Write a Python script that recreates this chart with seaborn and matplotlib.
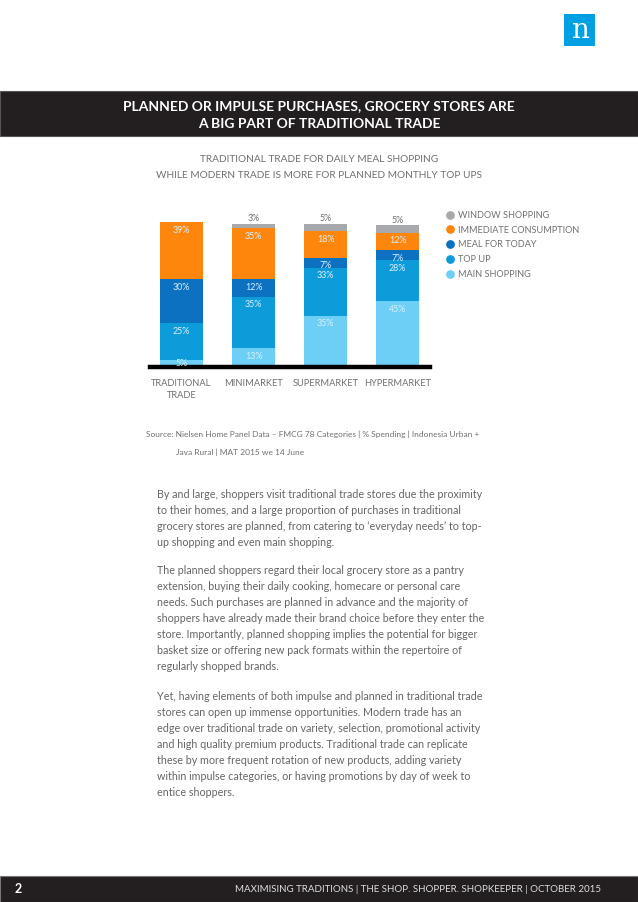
import matplotlib
matplotlib.use("Agg")
import matplotlib.pyplot as plt
from matplotlib.lines import Line2D
from matplotlib.patches import Rectangle
import seaborn as sns
import pandas as pd

# ---------------- data ----------------
categories = ["TRADITIONAL\nTRADE", "MINIMARKET", "SUPERMARKET", "HYPERMARKET"]
segments = ["MAIN SHOPPING", "TOP UP", "MEAL FOR TODAY", "IMMEDIATE CONSUMPTION", "WINDOW SHOPPING"]
main_shopping = [5, 13, 35, 45]
top_up = [25, 35, 33, 28]
meal_for_today = [30, 12, 7, 7]
immediate_consumption = [39, 35, 18, 12]
window_shopping = [0, 3, 5, 5]

colors = {
    "MAIN SHOPPING": "#6DCFF6",
    "TOP UP": "#0E9BDA",
    "MEAL FOR TODAY": "#0B71C0",
    "IMMEDIATE CONSUMPTION": "#FF860D",
    "WINDOW SHOPPING": "#A7A9AC",
}
legend_order = ["WINDOW SHOPPING", "IMMEDIATE CONSUMPTION", "MEAL FOR TODAY", "TOP UP", "MAIN SHOPPING"]

values = {
    "MAIN SHOPPING": main_shopping,
    "TOP UP": top_up,
    "MEAL FOR TODAY": meal_for_today,
    "IMMEDIATE CONSUMPTION": immediate_consumption,
    "WINDOW SHOPPING": window_shopping,
}

rows = []
for s in segments:
    for c, v in zip(categories, values[s]):
        rows.append({"category": c, "segment": s, "value": v})
df = pd.DataFrame(rows)
df["cum"] = df.groupby("category")["value"].cumsum()

# ---------------- figure ----------------
W, H = 638, 902
fig = plt.figure(figsize=(W / 100, H / 100), dpi=100)
fig.patch.set_facecolor("white")
FONT = "Lato"
GREY = "#707070"

def fx(px):
    return px / W

def fy(py):
    return 1 - py / H

# header band
fig.add_artist(Rectangle((0, fy(136)), 1, (136 - 91) / H, transform=fig.transFigure,
                         facecolor="#231F20", edgecolor="#555555", lw=0.8))
fig.text(0.5, fy(106), "PLANNED OR IMPULSE PURCHASES, GROCERY STORES ARE", ha="center", va="center",
         color="white", fontsize=10.0, fontweight="bold", family=FONT)
fig.text(0.5, fy(123.5), "A BIG PART OF TRADITIONAL TRADE", ha="center", va="center",
         color="white", fontsize=10.0, fontweight="bold", family=FONT)

# logo
fig.add_artist(Rectangle((fx(564), fy(46)), 31 / W, 32 / H, transform=fig.transFigure,
                         facecolor="#00A0E2", edgecolor="none"))
fig.text(fx(579.5), fy(31), "n", ha="center", va="center", color="white",
         fontsize=20, family="DejaVu Serif")

# subtitle
fig.text(0.5, fy(160), "TRADITIONAL TRADE FOR DAILY MEAL SHOPPING", ha="center", va="center",
         color=GREY, fontsize=7.3, family=FONT)
fig.text(0.5, fy(175), "WHILE MODERN TRADE IS MORE FOR PLANNED MONTHLY TOP UPS", ha="center", va="center",
         color=GREY, fontsize=7.3, family=FONT)

# ---------------- chart ----------------
ppp = 1.46  # px per percent
ymax = 105
ax_left, ax_right = 145.5, 433.5
ax_bottom = 367
ax_top = ax_bottom - ymax * ppp
ax = fig.add_axes([fx(ax_left), fy(ax_bottom), (ax_right - ax_left) / W, (ax_bottom - ax_top) / H])

# stacked bars drawn from the top segment down (cumulative heights)
for s in reversed(segments):
    sub = df[df["segment"] == s]
    sns.barplot(data=sub, x="category", y="cum", order=categories, color=colors[s],
                width=0.6, saturation=1, ax=ax, errorbar=None, linewidth=0)

ax.set_xlim(-0.5, 3.5)
ax.set_ylim(0, ymax)
ax.axis("off")
ax.axhline(0, xmin=(150 - ax_left) / (ax_right - ax_left), xmax=(430 - ax_left) / (ax_right - ax_left),
           color="black", lw=3.2, clip_on=False, zorder=5)

# value labels
lab_col = "#D6F0FB"
off = 8 / ppp
for _, r in df.iterrows():
    if r["value"] == 0:
        continue
    i = categories.index(r["category"])
    if r["segment"] == "WINDOW SHOPPING":
        ax.text(i, r["cum"] + 0.6, f"{r['value']}%", ha="center", va="bottom", color=GREY,
                fontsize=6.4, family=FONT)
    else:
        y = max(r["cum"] - off, 3.5 / ppp)
        ax.text(i, y, f"{r['value']}%", ha="center", va="center", color=lab_col,
                fontsize=6.4, family=FONT, zorder=6)

# category labels
for i, c in enumerate(categories):
    ax.text(i, -(378.5 - ax_bottom) / ppp, c, ha="center", va="top", color=GREY, fontsize=6.7,
            family=FONT, linespacing=1.45)

# legend
handles = [Line2D([], [], marker="o", linestyle="", markersize=6.3, markerfacecolor=colors[s],
                  markeredgecolor="none") for s in legend_order]
leg = fig.legend(handles, legend_order, loc="upper left", bbox_to_anchor=(fx(444), fy(211)),
                 frameon=False, handletextpad=0.35, labelspacing=0.62, handlelength=1.2,
                 borderpad=0, borderaxespad=0, prop={"family": FONT, "size": 6.6})
for t in leg.get_texts():
    t.set_color(GREY)

# source
fig.text(fx(146), fy(434), "Source: Nielsen Home Panel Data \u2013 FMCG 78 Categories | % Spending | Indonesia Urban +",
         ha="left", va="center", color=GREY, fontsize=6.0, family=FONT)
fig.text(fx(176), fy(452), "Java Rural | MAT 2015 we 14 June", ha="left", va="center", color=GREY,
         fontsize=6.0, family=FONT)

# body text
paragraphs = [
    ["By and large, shoppers visit traditional trade stores due the proximity",
     "to their homes, and a large proportion of purchases in traditional",
     "grocery stores are planned, from catering to \u2018everyday needs\u2019 to top-",
     "up shopping and even main shopping."],
    ["The planned shoppers regard their local grocery store as a pantry",
     "extension, buying their daily cooking, homecare or personal care",
     "needs. Such purchases are planned in advance and the majority of",
     "shoppers have already made their brand choice before they enter the",
     "store. Importantly, planned shopping implies the potential for bigger",
     "basket size or offering new pack formats within the repertoire of",
     "regularly shopped brands."],
    ["Yet, having elements of both impulse and planned in traditional trade",
     "stores can open up immense opportunities. Modern trade has an",
     "edge over traditional trade on variety, selection, promotional activity",
     "and high quality premium products. Traditional trade can replicate",
     "these by more frequent rotation of new products, adding variety",
     "within impulse categories, or having promotions by day of week to",
     "entice shoppers."],
]
starts = [494, 571, 696]
for p, y0 in zip(paragraphs, starts):
    for k, line in enumerate(p):
        fig.text(fx(157), fy(y0 + 16 * k), line, ha="left", va="center", color="#666666",
                 fontsize=7.75, family=FONT)

# footer
fig.add_artist(Rectangle((0, 0), 1, (902 - 876) / H, transform=fig.transFigure,
                         facecolor="#231F20", edgecolor="#777777", lw=0.8))
fig.text(fx(15), fy(889), "2", ha="left", va="center", color="white", fontsize=9,
         fontweight="bold", family=FONT)
fig.text(fx(601), fy(889), "MAXIMISING TRADITIONS | THE SHOP. SHOPPER. SHOPKEEPER | OCTOBER 2015",
         ha="right", va="center", color="#DDDDDD", fontsize=7.0, family=FONT)

fig.savefig("out.png", dpi=100, facecolor="white")
